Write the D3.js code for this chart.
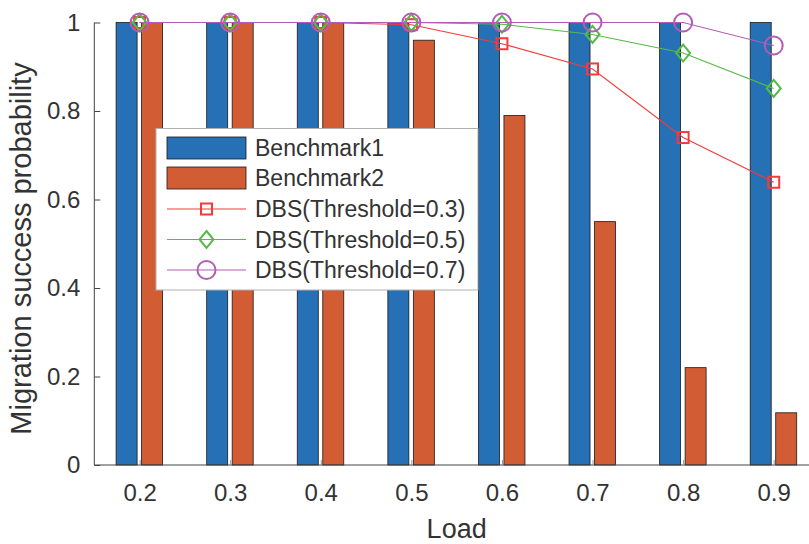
<!DOCTYPE html>
<html>
<head>
<meta charset="utf-8">
<script src="https://cdn.jsdelivr.net/npm/d3@7"></script>
<style>
  html, body { margin: 0; padding: 0; background: #fff; }
  svg { display: block; font-family: "Liberation Sans", Arial, Helvetica, sans-serif; }
</style>
</head>
<body>
<svg id="chart" width="809" height="544"></svg>
<script>
// ---- data ----
const loads = [0.2, 0.3, 0.4, 0.5, 0.6, 0.7, 0.8, 0.9];
const benchmark1 = [1, 1, 1, 1, 1, 1, 1, 1];
const benchmark2 = [1, 1, 1, 0.96, 0.79, 0.55, 0.22, 0.118];
const dbs03 = [1, 1, 1, 0.995, 0.952, 0.895, 0.74, 0.639];
const dbs05 = [1, 1, 1, 1, 0.996, 0.973, 0.931, 0.851];
const dbs07 = [1, 1, 1, 1, 1, 1, 1, 0.948];
const yTicks = [0, 0.2, 0.4, 0.6, 0.8, 1];
const xLabel = "Load";
const yLabel = "Migration success probability";
const legendLabels = ["Benchmark1", "Benchmark2", "DBS(Threshold=0.3)", "DBS(Threshold=0.5)", "DBS(Threshold=0.7)"];

// ---- styles ----
const blue = "#2671b6", orange = "#d25c33";
const red = "#f53a3a", green = "#55bb44", purple = "#b25cb6";

const svg = d3.select("#chart");
const x = d3.scaleLinear().domain([0.15, 0.95]).range([94.3, 819]);
const y = d3.scaleLinear().domain([0, 1]).range([465, 22.5]);
const barW = 21;

// bars
const g = svg.append("g");
g.selectAll("rect.b1").data(loads).join("rect")
  .attr("x", (d) => x(d) - 23.5).attr("width", barW)
  .attr("y", (d, i) => y(benchmark1[i])).attr("height", (d, i) => y(0) - y(benchmark1[i]))
  .attr("fill", blue).attr("stroke", "#1a1a1a").attr("stroke-width", 0.8);
g.selectAll("rect.b2").data(loads).join("rect")
  .attr("x", (d) => x(d) + 2).attr("width", barW)
  .attr("y", (d, i) => y(benchmark2[i])).attr("height", (d, i) => y(0) - y(benchmark2[i]))
  .attr("fill", orange).attr("stroke", "#1a1a1a").attr("stroke-width", 0.8);

// axes
const xAxis = d3.axisBottom(x).tickValues(loads).tickSize(-5).tickPadding(14).tickFormat(d3.format(".1f"));
const gx = svg.append("g").attr("transform", `translate(0,${y(0)})`).call(xAxis);
gx.select(".domain").attr("stroke", "#444").attr("d", `M${x(0.15)},0H${x(0.95)}`);
gx.selectAll(".tick line").attr("stroke", "#999");
gx.selectAll(".tick text").attr("font-size", 24).attr("fill", "#333").attr("font-family", "Liberation Sans, Arial, sans-serif").attr("dy", "0.9em");

const yAxis = d3.axisLeft(y).tickValues(yTicks).tickSize(-6).tickPadding(14).tickFormat((d) => d === 0 || d === 1 ? String(d) : d3.format(".1f")(d));
const gy = svg.append("g").attr("transform", `translate(${x(0.15)},0)`).call(yAxis);
gy.select(".domain").attr("stroke", "#444").attr("d", `M0,${y(0)}V${y(1)}`);
gy.selectAll(".tick line").attr("stroke", "#444");
gy.selectAll(".tick text").attr("font-size", 24).attr("fill", "#333").attr("font-family", "Liberation Sans, Arial, sans-serif");

// axis labels
svg.append("text").attr("x", x(0.55)).attr("y", 538).attr("text-anchor", "middle")
  .attr("font-size", 27).attr("fill", "#333").text(xLabel);
svg.append("text").attr("transform", `translate(31,248.5) rotate(-90)`).attr("text-anchor", "middle")
  .attr("font-size", 29).attr("fill", "#333").text(yLabel);

// lines & markers
function marker(sel, type, color) {
  if (type === "square") {
    sel.append("rect").attr("x", -5.5).attr("y", -5.5).attr("width", 11).attr("height", 11)
      .attr("fill", "none").attr("stroke", color).attr("stroke-width", 2);
  } else if (type === "diamond") {
    sel.append("path").attr("d", "M0,-8.5L7,0L0,8.5L-7,0Z")
      .attr("fill", "none").attr("stroke", color).attr("stroke-width", 2);
  } else {
    sel.append("circle").attr("r", 9)
      .attr("fill", "none").attr("stroke", color).attr("stroke-width", 2);
  }
}
const series = [
  { vals: dbs03, color: red, m: "square" },
  { vals: dbs05, color: green, m: "diamond" },
  { vals: dbs07, color: purple, m: "circle" }
];
const line = d3.line().x((d, i) => x(loads[i])).y((d) => y(d));
series.forEach((s) => {
  svg.append("path").datum(s.vals).attr("d", line).attr("fill", "none")
    .attr("stroke", s.color).attr("stroke-width", 1.1);
  s.vals.forEach((v, i) => {
    const mg = svg.append("g").attr("transform", `translate(${x(loads[i])},${y(v)})`);
    marker(mg, s.m, s.color);
  });
});

// legend
const lg = svg.append("g");
lg.append("rect").attr("x", 156).attr("y", 128.5).attr("width", 322).attr("height", 161.5)
  .attr("fill", "#fff").attr("stroke", "#b0b0b0").attr("stroke-width", 1);
const rowY = [148, 178, 209, 239.5, 270];
const swX0 = 167, swX1 = 246, txtX = 255;
[blue, orange].forEach((c, i) => {
  lg.append("rect").attr("x", swX0).attr("y", rowY[i] - 11).attr("width", swX1 - swX0).attr("height", 22)
    .attr("fill", c).attr("stroke", "#1a1a1a").attr("stroke-width", 0.8);
});
series.forEach((s, k) => {
  const yy = rowY[k + 2];
  lg.append("line").attr("x1", swX0).attr("x2", swX1).attr("y1", yy).attr("y2", yy)
    .attr("stroke", s.color).attr("stroke-width", 1.1);
  const mg = lg.append("g").attr("transform", `translate(${(swX0 + swX1) / 2},${yy})`);
  marker(mg, s.m, s.color);
});
legendLabels.forEach((t, i) => {
  lg.append("text").attr("x", txtX).attr("y", rowY[i]).attr("dy", "0.36em")
    .attr("font-size", 23).attr("fill", "#333").text(t);
});
</script>
</body>
</html>
